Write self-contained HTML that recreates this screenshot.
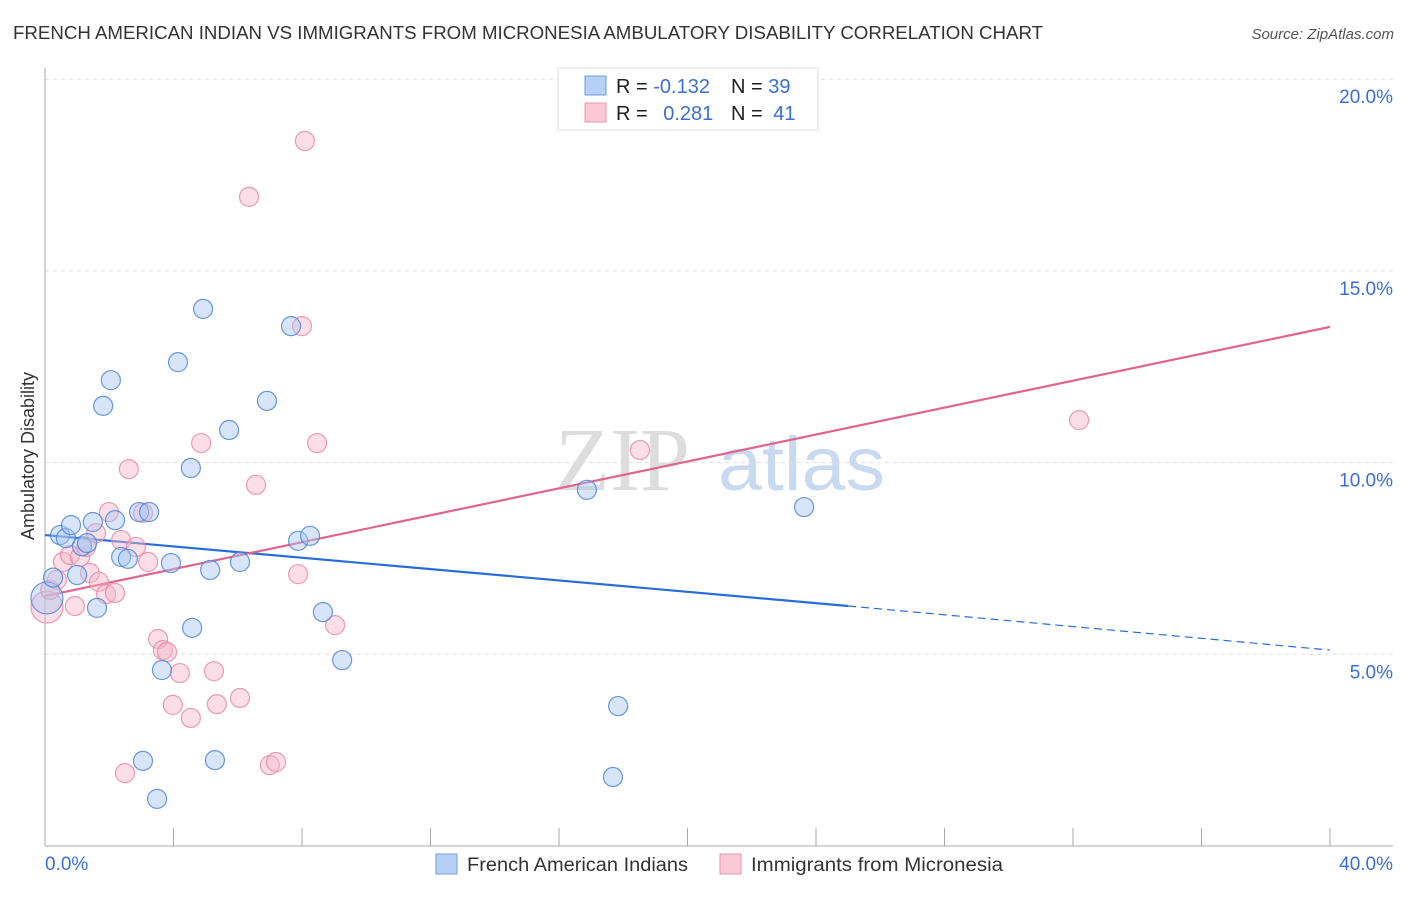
<!DOCTYPE html>
<html><head><meta charset="utf-8"><style>
html,body{margin:0;padding:0;background:#fff;}
body{width:1406px;height:892px;overflow:hidden;font-family:"Liberation Sans",sans-serif;}
</style></head><body>
<svg id="chart" width="1406" height="892" xmlns="http://www.w3.org/2000/svg" font-family="Liberation Sans, sans-serif">
<text x="13" y="39" font-size="18" fill="#333" textLength="1030" lengthAdjust="spacingAndGlyphs">FRENCH AMERICAN INDIAN VS IMMIGRANTS FROM MICRONESIA AMBULATORY DISABILITY CORRELATION CHART</text>
<text x="1394" y="39" font-size="15" fill="#555" text-anchor="end" font-style="italic">Source: ZipAtlas.com</text>
<text x="555" y="490" font-size="90" fill="#ddd" font-family="Liberation Serif, serif">ZIP</text>
<text x="718" y="490" font-size="76" fill="#c9d9ef" textLength="167" lengthAdjust="spacingAndGlyphs">atlas</text>
<g id="grid"></g>
<g id="axes"></g>
<g id="trends"></g>
<g id="points"></g>
<text transform="translate(34,456) rotate(-90)" font-size="18" fill="#333" text-anchor="middle">Ambulatory Disability</text>
<g>
<rect x="558" y="68" width="260" height="62" fill="#fff" stroke="#ddd"/>
<rect x="585" y="76" width="21" height="19" fill="#b8d0f3" stroke="#6f9ee0"/>
<rect x="585" y="103" width="21" height="19" fill="#fac8d6" stroke="#ec93ae"/>
<text x="616" y="93" font-size="20" fill="#222">R = <tspan fill="#3b6fd4">-0.132</tspan></text>
<text x="731" y="93" font-size="20" fill="#222">N = <tspan fill="#3b6fd4">39</tspan></text>
<text x="616" y="120" font-size="20" fill="#222">R = <tspan fill="#3b6fd4" dx="10">0.281</tspan></text>
<text x="731" y="120" font-size="20" fill="#222">N = <tspan fill="#3b6fd4" dx="5">41</tspan></text>
</g>
<g>
<rect x="436" y="854" width="21" height="20" fill="#b8d0f3" stroke="#6f9ee0"/>
<text x="467" y="871" font-size="19" fill="#333" textLength="221" lengthAdjust="spacingAndGlyphs">French American Indians</text>
<rect x="720" y="854" width="21" height="20" fill="#fac8d6" stroke="#ec93ae"/>
<text x="751" y="871" font-size="19" fill="#333" textLength="252" lengthAdjust="spacingAndGlyphs">Immigrants from Micronesia</text>
</g>
</svg>
<script>
const blueX=[0.06,0.25,0.47,0.65,0.81,1.00,1.15,1.31,1.49,1.62,1.81,2.05,2.18,2.37,2.58,2.93,3.24,4.58,3.64,3.05,3.49,3.92,4.14,4.54,4.92,5.14,5.29,5.73,6.07,6.91,7.66,7.88,8.25,8.65,9.25,16.87,17.84,17.68,23.63];
const blueY=[6.47,7.00,8.11,8.03,8.37,7.07,7.82,7.90,8.45,6.21,11.48,12.15,8.50,7.54,7.49,8.71,8.71,5.69,4.59,2.22,1.23,7.38,12.62,9.86,14.01,7.20,2.24,10.85,7.41,11.61,13.56,7.96,8.09,6.10,4.85,9.29,3.65,1.80,8.84];
const pinkX=[0.06,0.16,0.37,0.56,0.78,0.93,1.09,1.28,1.40,1.59,1.68,1.90,1.99,2.18,2.37,2.49,2.61,2.83,3.05,3.21,3.52,3.67,3.80,3.98,4.20,4.54,4.86,5.26,5.35,6.07,6.35,6.57,7.00,7.19,7.88,8.00,8.09,8.47,9.03,18.52,32.19];
const pinkY=[6.23,6.68,6.94,7.41,7.59,6.26,7.54,7.80,7.12,8.16,6.89,6.57,8.71,6.60,7.98,1.90,9.83,7.80,8.69,7.41,5.40,5.11,5.06,3.68,4.51,3.34,10.51,4.56,3.70,3.86,16.93,9.42,2.11,2.19,7.09,13.56,18.39,10.51,5.76,10.33,11.11];
const blueTrend=[8.11,6.26,5.11]; // at x=0, 25, 40
const pinkTrend=[6.52,13.54];     // at x=0, 40
const yTicks=[5,10,15,20];
const yTickLabels=["5.0%","10.0%","15.0%","20.0%"];
const xTickLabels=["0.0%","40.0%"];

const NS="http://www.w3.org/2000/svg";
const X=v=>45+v*32.125, Y=v=>846-v*38.34;
function mk(tag,attrs,parent){const e=document.createElementNS(NS,tag);for(const k in attrs)e.setAttribute(k,attrs[k]);document.getElementById(parent).appendChild(e);return e;}
yTicks.forEach((t,i)=>{
  const g=mk('line',{x1:45,x2:1393,y1:Y(t),y2:Y(t),stroke:'#ddd','stroke-dasharray':'4,4'},'grid');
  
  
  const l=mk('text',{x:1393,y:Y(t)+24,'font-size':19,fill:'#3b6fd4','text-anchor':'end'},'grid');
  l.textContent=yTickLabels[i];
  
  
});
const ax=mk('line',{x1:45,x2:45,y1:68,y2:846,stroke:'#aaa'},'axes');


const bx=mk('line',{x1:45,x2:1393,y1:846,y2:846,stroke:'#aaa'},'axes');


for(let k=1;k<=10;k++){
  const t=mk('line',{x1:X(k*4),x2:X(k*4),y1:828,y2:846,stroke:'#aaa'},'axes');
  
  
}
[[0,'start',45],[40,'end',1393]].forEach((d,i)=>{
  const l=mk('text',{x:d[2],y:870,'font-size':19,fill:'#3b6fd4','text-anchor':d[1]},'axes');
  l.textContent=xTickLabels[i];
  
  
});
function pts(xs,ys,fill,stroke,name){
  xs.forEach((x,i)=>{
    const c=mk('circle',{cx:X(x),cy:Y(ys[i]),r:i===0?16:9.5,fill:fill,'fill-opacity':0.45,stroke:stroke,'stroke-width':1.2,'stroke-opacity':0.85},'points');
    
    
  });
}
pts(pinkX,pinkY,'#f7b6c9','#e98aa8','micronesia-point');
pts(blueX,blueY,'#a9c6f0','#4f86d8','french-american-indian-point');
const b1=mk('line',{x1:X(0),y1:Y(blueTrend[0]),x2:X(25),y2:Y(blueTrend[1]),stroke:'#2a6dd6','stroke-width':2.2},'trends');


const b2=mk('line',{x1:X(25),y1:Y(blueTrend[1]),x2:X(40),y2:Y(blueTrend[2]),stroke:'#2a6dd6','stroke-width':1.2,'stroke-dasharray':'8,5'},'trends');


const p1=mk('line',{x1:X(0),y1:Y(pinkTrend[0]),x2:X(40),y2:Y(pinkTrend[1]),stroke:'#e0648e','stroke-width':2.2},'trends');


</script>
</body></html>
